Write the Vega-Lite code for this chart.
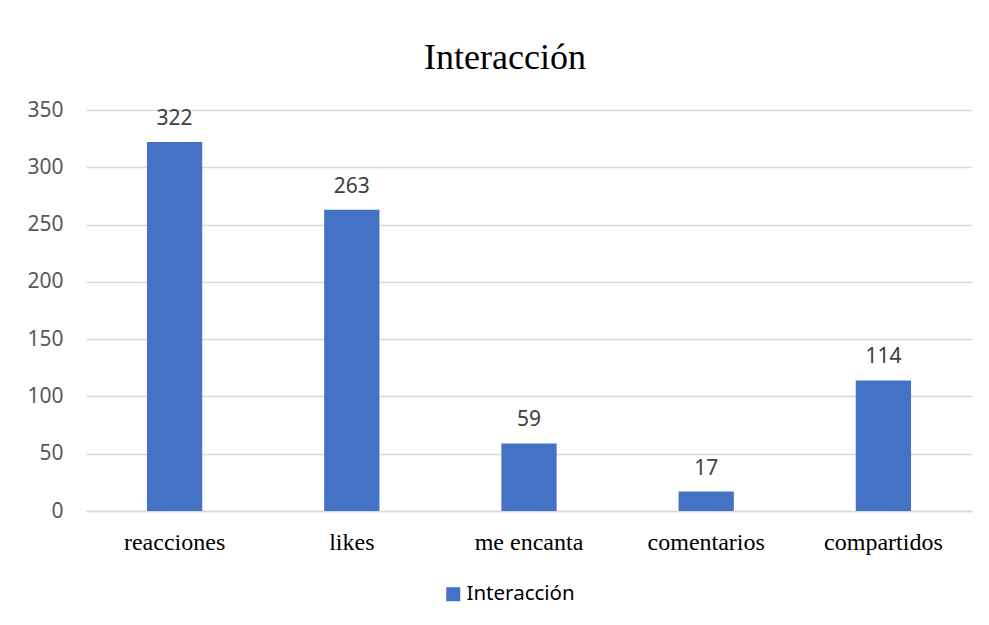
{
  "$schema": "https://vega.github.io/schema/vega-lite/v6.json",
  "autosize": {"type": "none"},
  "padding": {"left": 86, "top": 110, "right": 17, "bottom": 114},
  "width": 886,
  "height": 401,
  "background": "white",
  "config": {"view": {"stroke": null}},
  "title": {
    "text": "Interacción",
    "font": "Liberation Serif",
    "fontSize": 36,
    "fontWeight": "normal",
    "color": "#000000",
    "anchor": "middle",
    "baseline": "alphabetic",
    "offset": -6,
    "dx": -24
  },
  "data": {
    "values": [
      {"categoria": "reacciones", "valor": 322, "serie": "Interacción"},
      {"categoria": "likes", "valor": 263, "serie": "Interacción"},
      {"categoria": "me encanta", "valor": 59, "serie": "Interacción"},
      {"categoria": "comentarios", "valor": 17, "serie": "Interacción"},
      {"categoria": "compartidos", "valor": 114, "serie": "Interacción"}
    ]
  },
  "encoding": {
    "x": {
      "field": "categoria",
      "type": "nominal",
      "sort": null,
      "title": null,
      "scale": {"paddingInner": 0.688, "paddingOuter": 0.344},
      "axis": {
        "labelAngle": 0,
        "labelFont": "Liberation Serif",
        "labelFontSize": 24,
        "labelColor": "#000000",
        "labelBaseline": "alphabetic",
        "labelPadding": 38,
        "ticks": false,
        "domainColor": "#d9d9d9",
        "domainWidth": 1.5,
        "grid": false
      }
    },
    "y": {
      "field": "valor",
      "type": "quantitative",
      "title": null,
      "scale": {"domain": [0, 350], "nice": false},
      "axis": {
        "values": [0, 50, 100, 150, 200, 250, 300, 350],
        "labelFont": "Noto Sans",
        "labelFontSize": 21,
        "labelColor": "#595959",
        "labelPadding": 23,
        "ticks": false,
        "domain": false,
        "grid": true,
        "gridColor": "#d9d9d9",
        "gridWidth": 1.5
      }
    }
  },
  "layer": [
    {
      "mark": {"type": "bar", "color": "#4472C4"},
      "encoding": {
        "color": {
          "field": "serie",
          "type": "nominal",
          "scale": {"range": ["#4472C4"]},
          "legend": {
            "title": null,
            "orient": "none",
            "legendX": 357,
            "legendY": 474,
            "symbolType": "square",
            "symbolSize": 196,
            "symbolStrokeWidth": 0,
            "symbolOpacity": 1,
            "labelFont": "Noto Sans",
            "labelFontSize": 20.5,
            "labelColor": "#000000",
            "labelOffset": 3
          }
        }
      }
    },
    {
      "mark": {
        "type": "text",
        "baseline": "alphabetic",
        "dy": -17,
        "font": "Noto Sans",
        "fontSize": 21,
        "color": "#404040"
      },
      "encoding": {"text": {"field": "valor", "type": "quantitative"}}
    }
  ]
}
